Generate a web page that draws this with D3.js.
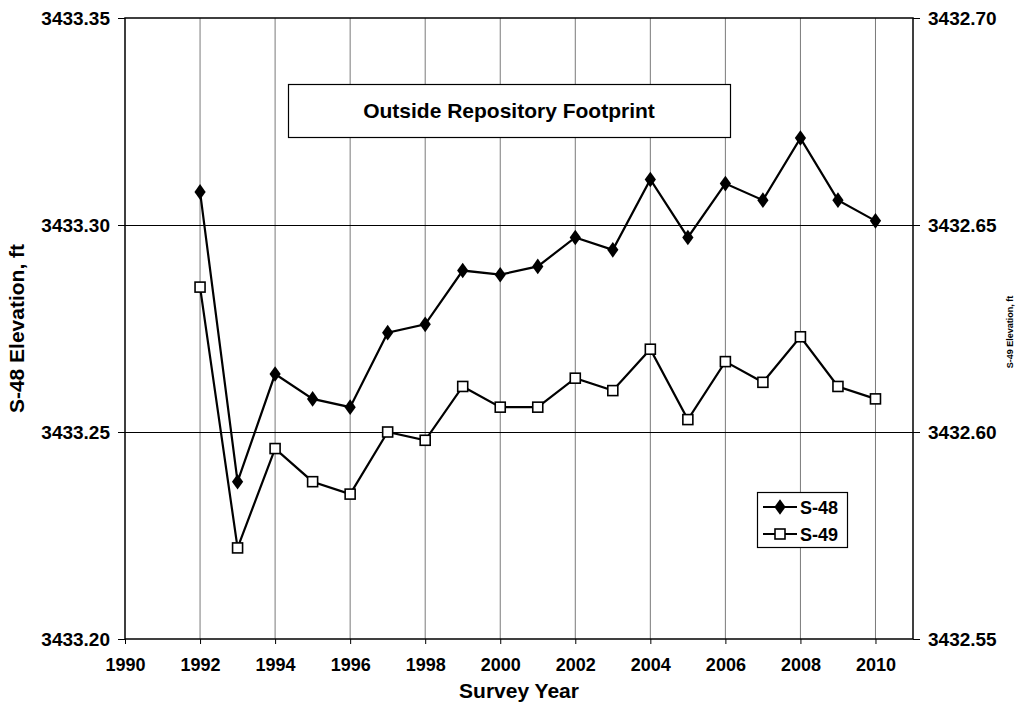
<!DOCTYPE html>
<html>
<head>
<meta charset="utf-8">
<script src="https://cdn.jsdelivr.net/npm/d3@7"></script>
<style>
  body { margin: 0; background: #fff; }
  text { font-family: "Liberation Sans", Arial, sans-serif; font-weight: bold; fill: #000; }
</style>
</head>
<body>
<div id="chart"></div>
<script>
// survey data
var years = [1992, 1993, 1994, 1995, 1996, 1997, 1998, 1999, 2000, 2001,
             2002, 2003, 2004, 2005, 2006, 2007, 2008, 2009, 2010];
var s48 = [3433.308, 3433.238, 3433.264, 3433.258, 3433.256, 3433.274, 3433.276, 3433.289, 3433.288, 3433.290,
           3433.297, 3433.294, 3433.311, 3433.297, 3433.310, 3433.306, 3433.321, 3433.306, 3433.301];
var s49 = [3432.635, 3432.572, 3432.596, 3432.588, 3432.585, 3432.600, 3432.598, 3432.611, 3432.606, 3432.606,
           3432.613, 3432.610, 3432.620, 3432.603, 3432.617, 3432.612, 3432.623, 3432.611, 3432.608];
var xTicks = [1990, 1992, 1994, 1996, 1998, 2000, 2002, 2004, 2006, 2008, 2010];
var leftTicks = [3433.20, 3433.25, 3433.30, 3433.35];
var rightTicks = [3432.55, 3432.60, 3432.65, 3432.70];

var width = 1016;
var height = 709;
var margin = { top: 18, left: 125, right: 103, bottom: 70 };
var innerW = width - margin.left - margin.right;
var innerH = height - margin.top - margin.bottom;

var svg = d3.select("#chart")
    .append("svg")
    .attr("width", width)
    .attr("height", height);

var g = svg.append("g")
    .attr("transform", "translate(" + margin.left + "," + margin.top + ")");

var x = d3.scaleLinear().domain([1990, 2011]).range([0, innerW]);
var yL = d3.scaleLinear().domain([3433.20, 3433.35]).range([innerH, 0]);
var yR = d3.scaleLinear().domain([3432.55, 3432.70]).range([innerH, 0]);

// vertical grid lines (grey)
g.selectAll(".vgrid")
    .data(xTicks.slice(1))
    .enter()
    .append("line")
    .attr("x1", function(d) { return x(d); })
    .attr("x2", function(d) { return x(d); })
    .attr("y1", 0)
    .attr("y2", innerH)
    .attr("stroke", "#7a7a7a")
    .attr("stroke-width", 1);

// horizontal grid lines (black)
g.selectAll(".hgrid")
    .data(leftTicks.slice(1, 3))
    .enter()
    .append("line")
    .attr("x1", 0)
    .attr("x2", innerW)
    .attr("y1", function(d) { return Math.round(yL(d)) + 0.5; })
    .attr("y2", function(d) { return Math.round(yL(d)) + 0.5; })
    .attr("stroke", "#000")
    .attr("stroke-width", 1.2);

// plot frame
g.append("rect")
    .attr("x", 0)
    .attr("y", 0)
    .attr("width", innerW)
    .attr("height", innerH)
    .attr("fill", "none")
    .attr("stroke", "#000")
    .attr("stroke-width", 1.5);

// axes
var xAxis = g.append("g")
    .attr("transform", "translate(0," + innerH + ")")
    .call(d3.axisBottom(x).tickValues(xTicks).tickFormat(d3.format("d")).tickSize(5).tickPadding(14));

var leftAxis = g.append("g")
    .call(d3.axisLeft(yL).tickValues(leftTicks).tickFormat(d3.format(".2f")).tickSize(7).tickPadding(8));

var rightAxis = g.append("g")
    .attr("transform", "translate(" + innerW + ",0)")
    .call(d3.axisRight(yR).tickValues(rightTicks).tickFormat(d3.format(".2f")).tickSize(7).tickPadding(8));

[xAxis, leftAxis, rightAxis].forEach(function(a) {
    a.select(".domain").remove();
    a.selectAll("line").attr("stroke", "#000");
    a.selectAll("text").style("font-size", "18px").style("font-family", "'Liberation Sans', Arial, sans-serif").style("font-weight", "bold");
});
leftAxis.selectAll("text").style("font-size", "19px");
rightAxis.selectAll("text").style("font-size", "19px");

// lines
var lineL = d3.line()
    .x(function(d, i) { return x(years[i]); })
    .y(function(d) { return yL(d); });
var lineR = d3.line()
    .x(function(d, i) { return x(years[i]); })
    .y(function(d) { return yR(d); });

g.append("path")
    .datum(s48)
    .attr("d", lineL)
    .attr("fill", "none")
    .attr("stroke", "#000")
    .attr("stroke-width", 2.2);

g.append("path")
    .datum(s49)
    .attr("d", lineR)
    .attr("fill", "none")
    .attr("stroke", "#000")
    .attr("stroke-width", 2.2);

// markers
var diamond = d3.symbol().type(d3.symbolDiamond).size(70);

g.selectAll(".m48")
    .data(s48)
    .enter()
    .append("path")
    .attr("d", diamond)
    .attr("transform", function(d, i) { return "translate(" + x(years[i]) + "," + yL(d) + ") scale(1.25,1)"; })
    .attr("fill", "#000");

g.selectAll(".m49")
    .data(s49)
    .enter()
    .append("rect")
    .attr("x", function(d, i) { return x(years[i]) - 5; })
    .attr("y", function(d) { return yR(d) - 5; })
    .attr("width", 10)
    .attr("height", 10)
    .attr("fill", "#fff")
    .attr("stroke", "#000")
    .attr("stroke-width", 1.6);

// title box
svg.append("rect")
    .attr("x", 288.5)
    .attr("y", 84.5)
    .attr("width", 442)
    .attr("height", 53)
    .attr("fill", "#fff")
    .attr("stroke", "#000")
    .attr("stroke-width", 1.2);

svg.append("text")
    .attr("x", 509)
    .attr("y", 118)
    .attr("text-anchor", "middle")
    .style("font-size", "21px")
    .text("Outside Repository Footprint");

// legend
var legend = svg.append("g").attr("transform", "translate(757,492)");
legend.append("rect")
    .attr("x", 0.5)
    .attr("y", 0.5)
    .attr("width", 90)
    .attr("height", 55)
    .attr("fill", "#fff")
    .attr("stroke", "#000")
    .attr("stroke-width", 1.2);

var legendItems = [{ name: "S-48", y: 15, type: "diamond" }, { name: "S-49", y: 42, type: "square" }];
legendItems.forEach(function(item) {
    legend.append("line")
        .attr("x1", 6)
        .attr("x2", 40)
        .attr("y1", item.y)
        .attr("y2", item.y)
        .attr("stroke", "#000")
        .attr("stroke-width", 2);
    if (item.type === "diamond") {
        legend.append("path")
            .attr("d", diamond)
            .attr("transform", "translate(23," + item.y + ") scale(1.25,1)")
            .attr("fill", "#000");
    } else {
        legend.append("rect")
            .attr("x", 18)
            .attr("y", item.y - 5)
            .attr("width", 10)
            .attr("height", 10)
            .attr("fill", "#fff")
            .attr("stroke", "#000")
            .attr("stroke-width", 1.6);
    }
    legend.append("text")
        .attr("x", 43)
        .attr("y", item.y + 6.5)
        .style("font-size", "18px")
        .text(item.name);
});

// axis titles
svg.append("text")
    .attr("x", margin.left + innerW / 2)
    .attr("y", 698)
    .attr("text-anchor", "middle")
    .style("font-size", "21px")
    .text("Survey Year");

svg.append("text")
    .attr("transform", "translate(24," + (margin.top + innerH / 2) + ") rotate(-90)")
    .attr("text-anchor", "middle")
    .style("font-size", "21px")
    .text("S-48 Elevation, ft");

svg.append("text")
    .attr("transform", "translate(1013," + 332 + ") rotate(-90)")
    .attr("text-anchor", "middle")
    .style("font-size", "9px")
    .text("S-49 Elevation, ft");
</script>
</body>
</html>
